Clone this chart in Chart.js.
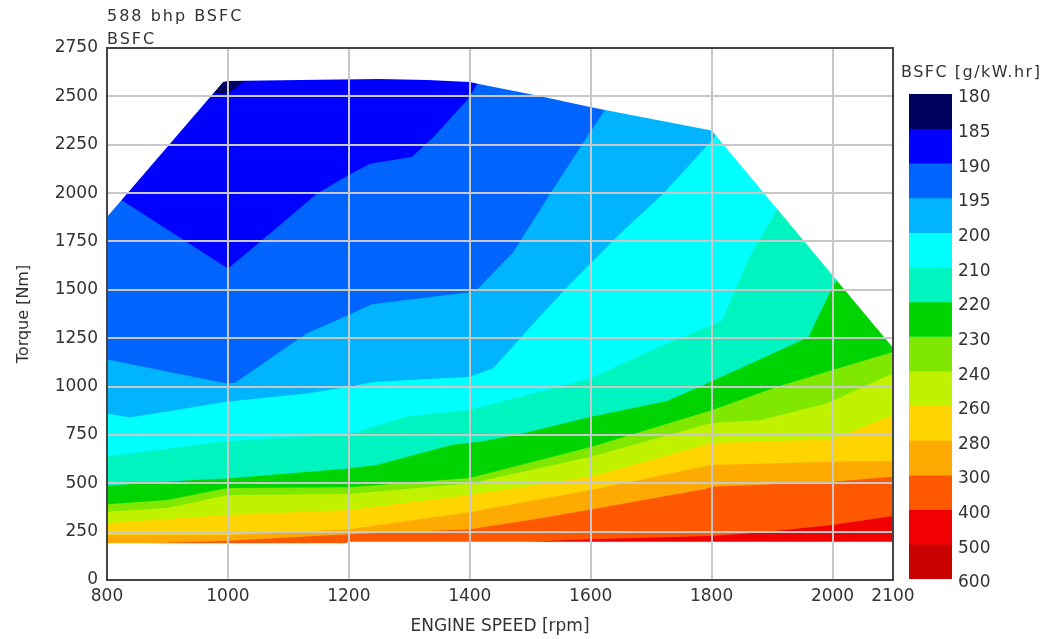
<!DOCTYPE html>
<html>
<head>
<meta charset="utf-8">
<title>588 bhp BSFC</title>
<script src="https://cdn.jsdelivr.net/npm/chart.js@4.4.1/dist/chart.umd.min.js"></script>
<style>
  html, body { margin: 0; padding: 0; background: #fff; }
  #wrap { position: relative; width: 1052px; height: 639px; }
  #map { position: absolute; left: 0; top: 0; }
  #bar { position: absolute; left: 880px; top: 0; }
</style>
</head>
<body>
<div id="wrap">
  <canvas id="map" width="1052" height="639"></canvas>
  <canvas id="bar" width="172" height="639"></canvas>
</div>
<script>
// text
const titleLines = ['588 bhp BSFC', 'BSFC'];
const xTitle = 'ENGINE SPEED [rpm]';
const yTitle = 'Torque [Nm]';
const barTitle = 'BSFC [g/kW.hr]';

// axes
const xTicks = [800, 1000, 1200, 1400, 1600, 1800, 2000, 2100];
const yTicks = [0, 250, 500, 750, 1000, 1250, 1500, 1750, 2000, 2250, 2500, 2750];

// colour bar: band edges and fill colours (one colour per band)
const levels = ['180', '185', '190', '195', '200', '210', '220', '230', '240', '260', '280', '300', '400', '500', '600'];
const bandColors = ['#00005e', '#0000ff', '#0064ff', '#00b4ff', '#00ffff', '#00f4c0', '#00d400', '#80e800',
    '#c0f200', '#ffd400', '#ffaa00', '#ff5800', '#f00000', '#c80000'];

// map outline [rpm, Nm]
const envelopeTop = [[800, 1876], [992, 2574], [1000, 2579], [1150, 2586], [1250, 2590], [1330, 2585],
    [1400, 2574], [1417, 2562], [1511, 2505], [1599, 2445], [1626, 2428], [1800, 2324], [2100, 1200]];
const envelopeBottom = [[800, 190], [1195, 190], [1200, 198], [2100, 198]];

// iso-BSFC lines [rpm, Nm], left to right; low BSFC lies above each line
const bsfc185 = [[965, 2521], [1000, 2514], [1036, 2600]];
const bsfc190 = [[811, 1990], [1000, 1610], [1053, 1747], [1147, 1997], [1199, 2092], [1235, 2152],
    [1304, 2186], [1340, 2290], [1395, 2479], [1420, 2600]];
const bsfc195 = [[800, 1140], [998, 1016], [1012, 1019], [1130, 1274], [1199, 1369], [1238, 1425],
    [1400, 1488], [1411, 1498], [1472, 1696], [1533, 1997], [1599, 2315], [1632, 2470]];
const bsfc200 = [[800, 861], [838, 840], [998, 921], [1130, 964], [1199, 998], [1240, 1024], [1400, 1050],
    [1439, 1095], [1500, 1308], [1566, 1530], [1649, 1791], [1720, 1997], [1803, 2281], [1815, 2345]];
const bsfc210 = [[800, 640], [1000, 718], [1200, 755], [1296, 845], [1400, 880], [1599, 1042], [1676, 1153],
    [1753, 1257], [1817, 1340], [1864, 1680], [1908, 1911], [1915, 1950]];
const bsfc220 = [[800, 487], [943, 517], [998, 525], [1199, 577], [1246, 594], [1373, 700], [1417, 714],
    [1489, 758], [1599, 843], [1726, 925], [1786, 1007], [1960, 1255], [1996, 1490], [2012, 1575]];
const bsfc230 = [[800, 392], [900, 413], [1000, 475], [1200, 480], [1400, 527], [1600, 687], [1800, 878],
    [1910, 1000], [2000, 1085], [2100, 1178]];
const bsfc240 = [[800, 353], [900, 372], [1000, 439], [1200, 444], [1400, 499], [1600, 637], [1800, 811],
    [1880, 826], [1990, 913], [2100, 1068]];
const bsfc260 = [[800, 293], [1000, 336], [1200, 362], [1400, 440], [1600, 534], [1800, 708], [2000, 727], [2100, 852]];
const bsfc280 = [[800, 232], [1000, 232], [1200, 262], [1400, 350], [1600, 465], [1800, 594], [2000, 611], [2100, 615]];
const bsfc300 = [[860, 170], [871, 190], [1000, 203], [1200, 237], [1400, 262], [1500, 310], [1600, 364],
    [1790, 470], [1800, 482], [2000, 508], [2100, 534]];
const bsfc400 = [[1480, 170], [1494, 198], [1600, 210], [1800, 227], [1875, 244], [2000, 284], [2100, 331]];

const contours = [bsfc185, bsfc190, bsfc195, bsfc200, bsfc210, bsfc220, bsfc230, bsfc240, bsfc260, bsfc280, bsfc300, bsfc400];

const FONT = 'DejaVu Sans';
const TEXT = '#333333';
const FAR = { left: 500, right: 2400, top: 4000, bottom: -1000 };

const toPoints = (pairs) => pairs.map(([x, y]) => ({ x, y }));

// area on the low side of a contour, closed well outside the map (masked later)
function lowSide(line) {
    const first = line[0];
    const last = line[line.length - 1];
    return [...line, [FAR.right, last[1]], [FAR.right, FAR.top], [FAR.left, FAR.top], [FAR.left, first[1]]];
}

function area(pairs, color) {
    return {
        data: toPoints(pairs),
        fill: 'shape',
        backgroundColor: color,
        borderWidth: 0,
        pointRadius: 0,
        pointHoverRadius: 0,
        tension: 0,
    };
}

const maskTop = [[FAR.left, envelopeTop[0][1]], ...envelopeTop,
    [FAR.right, envelopeTop[envelopeTop.length - 1][1]], [FAR.right, FAR.top], [FAR.left, FAR.top]];
const maskBottom = [[FAR.left, FAR.bottom], [FAR.right, FAR.bottom],
    [FAR.right, envelopeBottom[envelopeBottom.length - 1][1]], ...envelopeBottom.slice().reverse(),
    [FAR.left, envelopeBottom[0][1]]];
const baseArea = [[FAR.left, FAR.bottom], [FAR.right, FAR.bottom], [FAR.right, FAR.top], [FAR.left, FAR.top]];

// first dataset is painted last
const datasets = [
    area(maskTop, '#ffffff'),
    area(maskBottom, '#ffffff'),
    ...contours.map((line, i) => area(lowSide(line), bandColors[i])),
    area(baseArea, bandColors[contours.length]),
];

const frameAndTitle = {
    id: 'frameAndTitle',
    afterDraw(chart) {
        const { ctx, chartArea: a } = chart;
        ctx.save();
        ctx.strokeStyle = '#444444';
        ctx.lineWidth = 2;
        ctx.strokeRect(a.left, a.top, a.right - a.left, a.bottom - a.top);
        ctx.fillStyle = TEXT;
        ctx.font = `16px "${FONT}"`;
        ctx.letterSpacing = '2px';
        ctx.textAlign = 'left';
        ctx.textBaseline = 'alphabetic';
        ctx.fillText(titleLines[0], a.left, 21);
        ctx.fillText(titleLines[1], a.left, 44);
        ctx.restore();
    },
};

new Chart(document.getElementById('map'), {
    type: 'line',
    data: { datasets },
    options: {
        responsive: false,
        animation: false,
        events: [],
        layout: { padding: { left: 0, top: 48, right: 159, bottom: 0 } },
        scales: {
            x: {
                type: 'linear',
                min: xTicks[0],
                max: xTicks[xTicks.length - 1],
                afterBuildTicks: (s) => { s.ticks = xTicks.map((value) => ({ value })); },
                afterFit: (s) => { s.height = 59; },
                grid: { color: '#c8c8c8', lineWidth: 2, drawTicks: false, z: 1 },
                border: { display: false },
                ticks: {
                    autoSkip: false,
                    maxRotation: 0,
                    padding: 6,
                    color: TEXT,
                    font: { family: FONT, size: 17 },
                    callback: (v) => String(v),
                },
                title: { display: true, text: xTitle, color: TEXT, padding: { top: 0, bottom: 2 }, font: { family: FONT, size: 17 } },
            },
            y: {
                type: 'linear',
                min: yTicks[0],
                max: yTicks[yTicks.length - 1],
                afterBuildTicks: (s) => { s.ticks = yTicks.map((value) => ({ value })); },
                afterFit: (s) => { s.width = 107; },
                grid: { color: '#c8c8c8', lineWidth: 2, drawTicks: false, z: 1 },
                border: { display: false },
                ticks: {
                    padding: 9,
                    color: TEXT,
                    font: { family: FONT, size: 17 },
                    callback: (v) => String(v),
                },
                title: { display: true, text: yTitle, color: TEXT, padding: { top: 14, bottom: 0 }, font: { family: FONT, size: 16 } },
            },
        },
        plugins: { legend: { display: false }, tooltip: { enabled: false } },
    },
    plugins: [frameAndTitle],
});

const barHeading = {
    id: 'barHeading',
    afterDraw(chart) {
        const { ctx, chartArea: a } = chart;
        ctx.save();
        ctx.fillStyle = TEXT;
        ctx.font = `16px "${FONT}"`;
        ctx.letterSpacing = '1.5px';
        ctx.textAlign = 'left';
        ctx.textBaseline = 'alphabetic';
        ctx.fillText(barTitle, a.left - 8, 77);
        ctx.restore();
    },
};

new Chart(document.getElementById('bar'), {
    type: 'bar',
    data: {
        labels: [''],
        datasets: bandColors.map((color, i) => ({
            label: `${levels[i]}-${levels[i + 1]}`,
            data: [1],
            backgroundColor: color,
            borderWidth: 0,
            barPercentage: 1,
            categoryPercentage: 1,
        })),
    },
    options: {
        responsive: false,
        animation: false,
        events: [],
        layout: { padding: { left: 29, top: 94, right: 0, bottom: 60 } },
        scales: {
            x: { display: false, stacked: true },
            y: {
                stacked: true,
                min: 0,
                max: bandColors.length,
                reverse: true,
                position: 'right',
                afterFit: (s) => { s.width = 100; },
                grid: { display: false, drawTicks: false },
                border: { display: false },
                ticks: {
                    stepSize: 1,
                    autoSkip: false,
                    padding: 6,
                    labelOffset: 4,
                    color: TEXT,
                    font: { family: FONT, size: 17 },
                    callback: (v) => levels[v],
                },
            },
        },
        plugins: { legend: { display: false }, tooltip: { enabled: false } },
    },
    plugins: [barHeading],
});
</script>
</body>
</html>
